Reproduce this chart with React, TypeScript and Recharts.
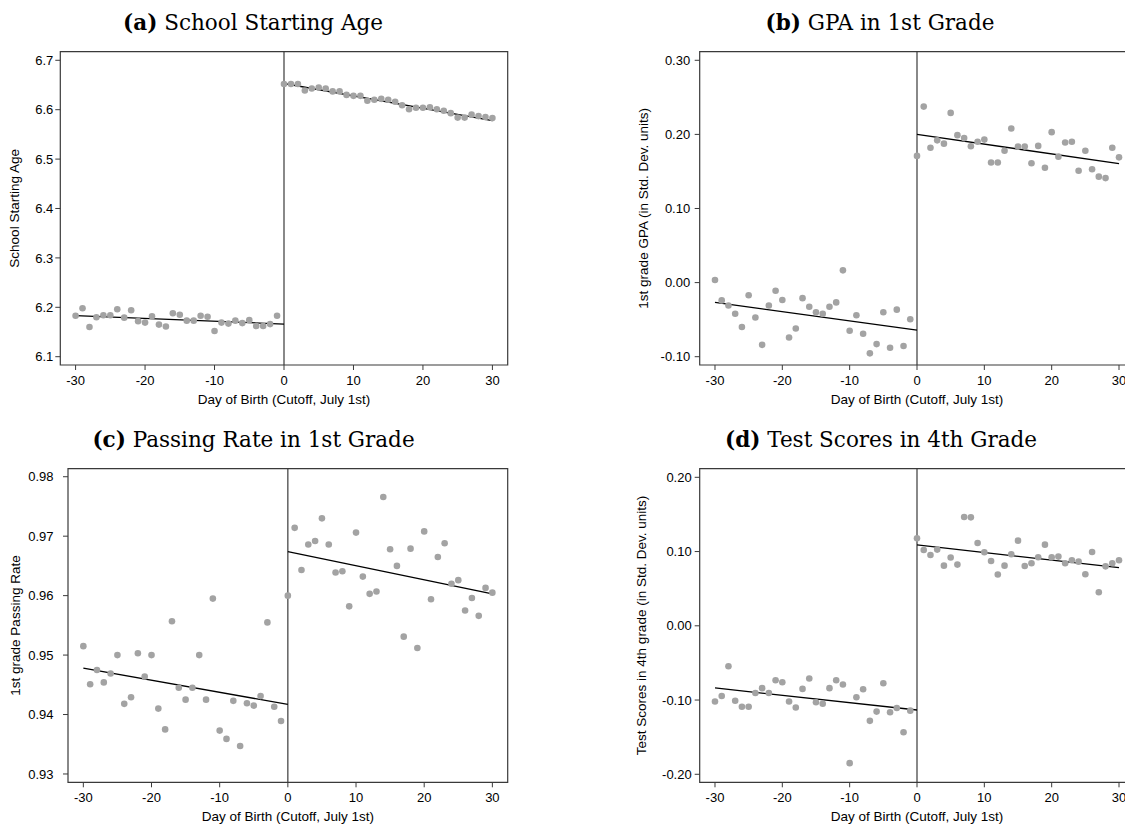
import React from 'react';
import { ScatterChart, Scatter, XAxis, YAxis, ReferenceLine, ReferenceArea } from 'recharts';

const daysBefore = [-30, -29, -28, -27, -26, -25, -24, -23, -22, -21, -20, -19, -18, -17, -16, -15, -14, -13, -12, -11, -10, -9, -8, -7, -6, -5, -4, -3, -2, -1];
const daysAfter = [0, 1, 2, 3, 4, 5, 6, 7, 8, 9, 10, 11, 12, 13, 14, 15, 16, 17, 18, 19, 20, 21, 22, 23, 24, 25, 26, 27, 28, 29, 30];
const fitDaysBefore = [-30, 0];
const fitDaysAfter = [0, 30];
const xTicks = [-30, -20, -10, 0, 10, 20, 30];

// (a) school starting age
const ageBefore = [6.183, 6.198, 6.160, 6.180, 6.184, 6.184, 6.196, 6.179, 6.194, 6.172, 6.169, 6.182, 6.165, 6.161, 6.188, 6.185, 6.173, 6.173, 6.183, 6.181, 6.152, 6.169, 6.167, 6.173, 6.168, 6.174, 6.162, 6.162, 6.166, 6.183];
const ageAfter = [6.652, 6.652, 6.652, 6.639, 6.643, 6.645, 6.643, 6.637, 6.637, 6.630, 6.628, 6.628, 6.618, 6.620, 6.622, 6.620, 6.616, 6.609, 6.601, 6.604, 6.604, 6.605, 6.601, 6.598, 6.593, 6.584, 6.584, 6.590, 6.587, 6.585, 6.583];
const ageFitBefore = [6.183, 6.166];
const ageFitAfter = [6.653, 6.578];
const ageTicks = [6.1, 6.2, 6.3, 6.4, 6.5, 6.6, 6.7];

// (b) GPA in 1st grade
const gpaBefore = [0.0035, -0.024, -0.031, -0.042, -0.060, -0.017, -0.047, -0.084, -0.031, -0.011, -0.0235, -0.074, -0.062, -0.021, -0.0325, -0.040, -0.042, -0.0325, -0.0267, 0.0165, -0.065, -0.044, -0.069, -0.0955, -0.083, -0.040, -0.088, -0.0365, -0.0855, -0.0495];
const gpaAfter = [0.171, 0.2375, 0.182, 0.192, 0.1875, 0.229, 0.199, 0.195, 0.184, 0.190, 0.193, 0.162, 0.162, 0.178, 0.208, 0.1835, 0.1835, 0.161, 0.1845, 0.155, 0.203, 0.170, 0.189, 0.190, 0.151, 0.178, 0.153, 0.143, 0.141, 0.182, 0.169];
const gpaFitBefore = [-0.0267, -0.064];
const gpaFitAfter = [0.200, 0.1605];
const gpaTicks = [-0.1, 0, 0.1, 0.2, 0.3];

// (c) passing rate in 1st grade
const passBefore = [0.9515, 0.9451, 0.9475, 0.9454, 0.9469, 0.9500, 0.9418, 0.9429, 0.9503, 0.9464, 0.9500, 0.9410, 0.9375, 0.9557, 0.9445, 0.9425, 0.9445, 0.9500, 0.9425, 0.9595, 0.9373, 0.9359, 0.9423, 0.9347, 0.9419, 0.9415, 0.9431, 0.9555, 0.9413, 0.9389];
const passAfter = [0.9600, 0.9714, 0.9643, 0.9686, 0.9692, 0.9730, 0.9686, 0.9639, 0.9641, 0.9582, 0.9706, 0.9632, 0.9603, 0.9607, 0.9766, 0.9678, 0.9650, 0.9531, 0.9679, 0.9512, 0.9708, 0.9594, 0.9665, 0.9688, 0.9620, 0.9626, 0.9575, 0.9596, 0.9566, 0.9613, 0.9605];
const passFitBefore = [0.9478, 0.9417];
const passFitAfter = [0.9674, 0.9603];
const passTicks = [0.93, 0.94, 0.95, 0.96, 0.97, 0.98];

// (d) test scores in 4th grade
const scoreBefore = [-0.102, -0.0945, -0.0545, -0.101, -0.109, -0.109, -0.0905, -0.084, -0.0905, -0.0734, -0.076, -0.102, -0.110, -0.085, -0.071, -0.103, -0.105, -0.084, -0.0734, -0.079, -0.185, -0.0963, -0.0855, -0.128, -0.1156, -0.0774, -0.1165, -0.1107, -0.1434, -0.1143];
const scoreAfter = [0.1178, 0.102, 0.0954, 0.1026, 0.081, 0.092, 0.0824, 0.1466, 0.1461, 0.1116, 0.099, 0.0873, 0.069, 0.081, 0.0963, 0.1147, 0.0806, 0.0842, 0.0923, 0.1093, 0.0923, 0.0932, 0.0842, 0.0882, 0.0864, 0.0694, 0.0994, 0.0451, 0.0801, 0.0842, 0.0882];
const scoreFitBefore = [-0.0837, -0.1134];
const scoreFitAfter = [0.1089, 0.0783];
const scoreTicks = [-0.2, -0.1, 0, 0.1, 0.2];

const sans = '"Liberation Sans", Arial, Helvetica, sans-serif';
const dotColor = '#a3a3a3';
const frameColor = '#3a3a3a';

const toPoints = (days: number[], values: number[]) => days.map((d, i) => ({ day: d, value: values[i] }));

const Dot = (props: any) => <circle cx={props.cx} cy={props.cy} r={3.3} fill={dotColor} />;

interface PanelProps {
  left: number;
  top: number;
  width: number;
  height: number;
  letter: string;
  title: string;
  titleCenter: number;
  titleTop: number;
  yLabel: string;
  yLabelOffset: number;
  yTicks: number[];
  yDomain: [number, number];
  xDomain: [number, number];
  digits: number;
  plotLeft: number;
  plotTop: number;
  marginRight: number;
  xAxisHeight: number;
  xLabelOffset: number;
  yTickMargin: number;
  xTickMargin: number;
  before: number[];
  after: number[];
  fitBefore: number[];
  fitAfter: number[];
}

const Panel: React.FC<PanelProps> = (p) => {
  const tickStyle = { fontSize: 13, fill: '#000', fontFamily: sans };
  const labelStyle = { fontSize: 13.5, fill: '#000', fontFamily: sans };
  return (
    <>
      <div
        style={{
          position: 'absolute',
          left: p.titleCenter - 250,
          top: p.titleTop,
          width: 500,
          textAlign: 'center',
          fontFamily: '"DejaVu Serif", serif',
          fontSize: 21.5,
          lineHeight: 1,
          color: '#000',
          whiteSpace: 'nowrap'
        }}
      >
        <b>({p.letter})</b> {p.title}
      </div>
      <div style={{ position: 'absolute', left: p.left, top: p.top }}>
        <ScatterChart
          width={p.width}
          height={p.height}
          margin={{ top: p.plotTop, right: p.marginRight, bottom: 0, left: 0 }}
        >
          <XAxis
            type="number"
            dataKey="day"
            domain={p.xDomain}
            ticks={xTicks}
            allowDataOverflow
            height={p.xAxisHeight}
            axisLine={false}
            tickSize={5}
            tickMargin={p.xTickMargin}
            tickLine={{ stroke: frameColor }}
            tick={tickStyle}
            label={{
              value: 'Day of Birth (Cutoff, July 1st)',
              position: 'insideBottom',
              offset: p.xLabelOffset,
              style: labelStyle
            }}
          />
          <YAxis
            type="number"
            dataKey="value"
            domain={p.yDomain}
            ticks={p.yTicks}
            allowDataOverflow
            width={p.plotLeft}
            axisLine={false}
            tickSize={5}
            tickMargin={p.yTickMargin}
            tickLine={{ stroke: frameColor }}
            tick={tickStyle}
            tickFormatter={(v: number) => v.toFixed(p.digits)}
            label={{
              value: p.yLabel,
              angle: -90,
              position: 'insideLeft',
              offset: p.yLabelOffset,
              style: { ...labelStyle, textAnchor: 'middle' }
            }}
          />
          <ReferenceArea
            x1={p.xDomain[0]}
            x2={p.xDomain[1]}
            y1={p.yDomain[0]}
            y2={p.yDomain[1]}
            fill="none"
            stroke={frameColor}
            strokeWidth={1.2}
          />
          <ReferenceLine x={0} stroke={frameColor} strokeWidth={1.2} />
          <Scatter data={toPoints(daysBefore, p.before)} shape={Dot} isAnimationActive={false} />
          <Scatter data={toPoints(daysAfter, p.after)} shape={Dot} isAnimationActive={false} />
          <ReferenceLine
            segment={[
              { x: fitDaysBefore[0], y: p.fitBefore[0] },
              { x: fitDaysBefore[1], y: p.fitBefore[1] }
            ]}
            stroke="#000"
            strokeWidth={1.3}
          />
          <ReferenceLine
            segment={[
              { x: fitDaysAfter[0], y: p.fitAfter[0] },
              { x: fitDaysAfter[1], y: p.fitAfter[1] }
            ]}
            stroke="#000"
            strokeWidth={1.3}
          />
        </ScatterChart>
      </div>
    </>
  );
};

export default function App() {
  return (
    <div
      style={{
        position: 'absolute',
        left: 0,
        top: 0,
        width: 1125,
        height: 825,
        overflow: 'hidden',
        background: '#fff'
      }}
    >
      <Panel
        left={0} top={0} width={520} height={420}
        letter="a" title="School Starting Age" titleCenter={253} titleTop={12}
        yLabel="School Starting Age" yLabelOffset={14}
        yTicks={ageTicks} yDomain={[6.0832, 6.7174]} xDomain={[-32.2, 32.2]} digits={1}
        plotLeft={60.3} plotTop={51.7} marginRight={12.3} xAxisHeight={55} xLabelOffset={15.7}
        yTickMargin={2} xTickMargin={5.5}
        before={ageBefore} after={ageAfter} fitBefore={ageFitBefore} fitAfter={ageFitAfter}
      />
      <Panel
        left={630} top={0} width={520} height={420}
        letter="b" title="GPA in 1st Grade" titleCenter={880} titleTop={12}
        yLabel="1st grade GPA (in Std. Dev. units)" yLabelOffset={13}
        yTicks={gpaTicks} yDomain={[-0.1112, 0.3116]} xDomain={[-32.27, 32.27]} digits={2}
        plotLeft={69.7} plotTop={51.7} marginRight={15.7} xAxisHeight={55} xLabelOffset={15.7}
        yTickMargin={4.5} xTickMargin={5.5}
        before={gpaBefore} after={gpaAfter} fitBefore={gpaFitBefore} fitAfter={gpaFitAfter}
      />
      <Panel
        left={0} top={420} width={520} height={405}
        letter="c" title="Passing Rate in 1st Grade" titleCenter={253.5} titleTop={428.5}
        yLabel="1st grade Passing Rate" yLabelOffset={15}
        yTicks={passTicks} yDomain={[0.9286, 0.98135]} xDomain={[-32.25, 32.25]} digits={2}
        plotLeft={68} plotTop={48.7} marginRight={12.3} xAxisHeight={42.7} xLabelOffset={4.5}
        yTickMargin={9.5} xTickMargin={5}
        before={passBefore} after={passAfter} fitBefore={passFitBefore} fitAfter={passFitAfter}
      />
      <Panel
        left={630} top={420} width={520} height={405}
        letter="d" title="Test Scores in 4th Grade" titleCenter={881} titleTop={428.5}
        yLabel="Test Scores in 4th grade (in Std. Dev. units)" yLabelOffset={11.7}
        yTicks={scoreTicks} yDomain={[-0.2108, 0.2116]} xDomain={[-32.27, 32.27]} digits={2}
        plotLeft={69.7} plotTop={48.7} marginRight={15.7} xAxisHeight={42.7} xLabelOffset={4.5}
        yTickMargin={3} xTickMargin={5}
        before={scoreBefore} after={scoreAfter} fitBefore={scoreFitBefore} fitAfter={scoreFitAfter}
      />
    </div>
  );
}
